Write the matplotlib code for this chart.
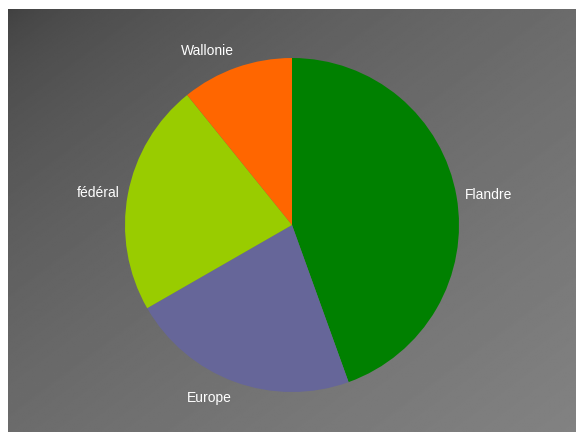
import numpy as np
import matplotlib.pyplot as plt

# répartition (en %) par niveau de pouvoir
labels = ['Flandre', 'Europe', 'fédéral', 'Wallonie']
parts = [44.5, 22.2, 22.5, 10.8]
colors = ['#008000', '#666699', '#99cc00', '#ff6600']

fig = plt.figure(figsize=(5.76, 4.32), dpi=100)
fig.set_facecolor('white')

# fond en dégradé gris (sombre en haut à gauche, clair en bas à droite)
bg = fig.add_axes([8 / 576, 0, 1 - 8 / 576, 1 - 9 / 432])
xx, yy = np.meshgrid(np.linspace(0, 1, 300), np.linspace(0, 1, 300))
t = (xx + yy) / 2
grad = 64 + 66 * t ** 0.6
bg.imshow(grad, cmap='gray', vmin=0, vmax=255, aspect='auto',
          extent=[0, 1, 0, 1], origin='upper', interpolation='bilinear')
bg.axis('off')

ax = fig.add_axes([83.25 / 576, -1.75 / 432, 417.5 / 576, 417.5 / 432])
ax.set_facecolor('none')
wedges, texts = ax.pie(parts, labels=labels, colors=colors, startangle=90,
                       counterclock=False, labeldistance=1.05,
                       textprops=dict(color='white', fontsize=10,
                                      family='Liberation Sans'))
# étiquettes du haut et du bas collées au bord du camembert
for txt in texts:
    x, y = txt.get_position()
    if abs(y) > abs(x):
        txt.set_va('bottom' if y > 0 else 'top')
        txt.set_position((x, y * 1.01))

ax.set_xlim(-1.25, 1.25)
ax.set_ylim(-1.25, 1.25)
ax.set_aspect('equal')

fig.savefig('out.png', dpi=100, facecolor=fig.get_facecolor())
